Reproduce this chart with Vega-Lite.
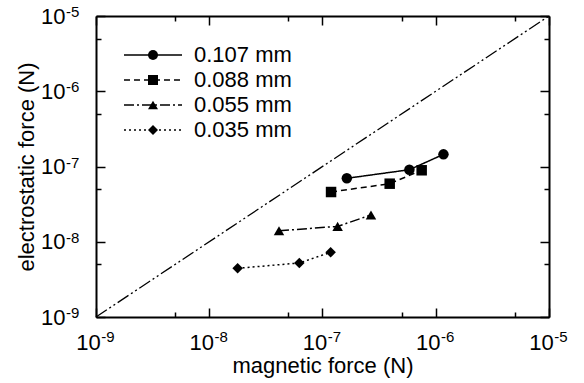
{
  "$schema": "https://vega.github.io/schema/vega-lite/v6.json",
  "width": 453,
  "height": 301,
  "autosize": "none",
  "padding": {"left": 96, "top": 16, "right": 35, "bottom": 66},
  "config": {
    "view": {"stroke": null},
    "font": "Liberation Sans",
    "axis": {"grid": false, "domainColor": "black", "tickColor": "black", "labelColor": "black", "titleColor": "black", "titleFontWeight": "normal", "labelFont": "Liberation Sans", "titleFont": "Liberation Sans", "labelFlush": false, "labelOverlap": false, "labelBound": false},
    "legend": {"labelFont": "Liberation Sans", "labelColor": "black", "labelFontSize": 22, "labelLimit": 300}
  },
  "datasets": {
    "pts": [
      {"series": "0.107 mm", "mag": 1.64e-7, "elec": 6.97e-8},
      {"series": "0.107 mm", "mag": 5.85e-7, "elec": 9.06e-8},
      {"series": "0.107 mm", "mag": 1.17e-6, "elec": 1.45e-7},
      {"series": "0.088 mm", "mag": 1.19e-7, "elec": 4.58e-8},
      {"series": "0.088 mm", "mag": 3.92e-7, "elec": 5.91e-8},
      {"series": "0.088 mm", "mag": 7.51e-7, "elec": 8.91e-8},
      {"series": "0.055 mm", "mag": 4.13e-8, "elec": 1.40e-8},
      {"series": "0.055 mm", "mag": 1.36e-7, "elec": 1.60e-8},
      {"series": "0.055 mm", "mag": 2.68e-7, "elec": 2.27e-8},
      {"series": "0.035 mm", "mag": 1.78e-8, "elec": 4.44e-9},
      {"series": "0.035 mm", "mag": 6.24e-8, "elec": 5.22e-9},
      {"series": "0.035 mm", "mag": 1.18e-7, "elec": 7.24e-9}
    ],
    "diag": [
      {"mag": 1e-9, "elec": 1e-9},
      {"mag": 1e-5, "elec": 1e-5}
    ]
  },
  "layer": [
    {
      "data": {"name": "diag"},
      "mark": {"type": "line", "color": "black", "strokeWidth": 1.3, "strokeDash": [13, 3, 2, 3, 2, 3]},
      "encoding": {
        "x": {
          "field": "mag", "type": "quantitative",
          "scale": {"type": "log", "domain": [1e-9, 1e-5], "nice": false},
          "axis": {
            "orient": "bottom",
            "values": [1e-9, 1e-8, 1e-7, 1e-6, 1e-5],
            "labelExpr": "'10'",
            "tickSize": -9, "tickWidth": 1.5, "domainWidth": 2,
            "labelFontSize": 22, "labelPadding": 24.5, "labelOffset": -8,
            "title": "magnetic force (N)", "titleFontSize": 22, "titleY": 55, "titleBaseline": "alphabetic"
          }
        },
        "y": {
          "field": "elec", "type": "quantitative",
          "scale": {"type": "log", "domain": [1e-9, 1e-5], "nice": false},
          "axis": {
            "orient": "left",
            "values": [1e-9, 1e-8, 1e-7, 1e-6, 1e-5],
            "labelExpr": "'10'",
            "tickSize": -9, "tickWidth": 1.5, "domainWidth": 2,
            "labelFontSize": 22, "labelPadding": 40,
            "title": "electrostatic force (N)", "titleFontSize": 22, "titleX": -63, "titleY": 150.5, "titleAngle": 270, "titleAlign": "center", "titleBaseline": "alphabetic"
          }
        }
      }
    },
    {
      "data": {"name": "pts"},
      "mark": {"type": "line", "color": "black", "strokeWidth": 1.5},
      "encoding": {
        "x": {
          "field": "mag", "type": "quantitative",
          "axis": {
            "orient": "bottom",
            "values": [1e-9, 1e-8, 1e-7, 1e-6, 1e-5],
            "labelExpr": "'' + round(log(datum.value)/LN10)",
            "ticks": false, "domain": false,
            "labelFontSize": 15, "labelPadding": 12.3, "labelOffset": 11.5,
            "title": null
          }
        },
        "y": {
          "field": "elec", "type": "quantitative",
          "axis": {
            "orient": "left",
            "values": [1e-9, 1e-8, 1e-7, 1e-6, 1e-5],
            "labelExpr": "'' + round(log(datum.value)/LN10)",
            "ticks": false, "domain": false,
            "labelFontSize": 15, "labelPadding": 30.5, "labelAlign": "left", "labelOffset": -4.5,
            "title": null
          }
        },
        "strokeDash": {
          "field": "series", "type": "nominal",
          "scale": {"domain": ["0.107 mm", "0.088 mm", "0.055 mm", "0.035 mm"], "range": [[1, 0], [6, 4], [10, 3, 2, 3], [2, 3]]},
          "legend": {"orient": "none", "legendX": 46, "legendY": 28, "title": null, "symbolType": "M-5.8,0H5.8", "symbolSize": 100, "symbolStrokeWidth": 1.5, "symbolStrokeColor": "black", "symbolFillColor": "transparent", "labelFontSize": 22, "labelOffset": 30, "rowPadding": 3, "padding": 0,
            "encode": {"labels": {"update": {"fontSize": {"value": 22}}}}}
        }
      }
    },
    {
      "data": {"name": "pts"},
      "mark": {"type": "point", "filled": true, "size": 110, "color": "black", "opacity": 1},
      "encoding": {
        "x": {
          "field": "mag", "type": "quantitative",
          "axis": {
            "orient": "top",
            "values": [1e-9, 1e-8, 1e-7, 1e-6, 1e-5],
            "labels": false, "tickSize": -9, "tickWidth": 1.5, "domainWidth": 2, "title": null
          }
        },
        "y": {
          "field": "elec", "type": "quantitative",
          "axis": {
            "orient": "right",
            "values": [1e-9, 1e-8, 1e-7, 1e-6, 1e-5],
            "labels": false, "tickSize": -9, "tickWidth": 1.5, "domainWidth": 2, "title": null
          }
        },
        "shape": {
          "field": "series", "type": "nominal", "sort": "descending",
          "scale": {"range": ["circle", "square", "triangle-up", "diamond"]},
          "legend": {"orient": "none", "legendX": 46, "legendY": 28, "title": null, "symbolSize": 100, "symbolFillColor": "black", "symbolStrokeColor": "black", "symbolStrokeWidth": 0, "labelFontSize": 22, "labelOffset": 30, "rowPadding": 3, "padding": 0, "labelOpacity": 0,
            "encode": {"labels": {"update": {"fontSize": {"value": 22}, "opacity": {"value": 0}}}}}
        }
      }
    },
    {
      "data": {"name": "diag"},
      "mark": {"type": "point", "opacity": 0},
      "encoding": {
        "x": {
          "field": "mag", "type": "quantitative",
          "axis": {
            "orient": "bottom",
            "values": [5e-9, 5e-8, 5e-7, 5e-6],
            "labels": false, "domain": false, "tickSize": -5, "tickWidth": 1.5, "title": null
          }
        },
        "y": {
          "field": "elec", "type": "quantitative",
          "axis": {
            "orient": "left",
            "values": [5e-9, 5e-8, 5e-7, 5e-6],
            "labels": false, "domain": false, "tickSize": -5, "tickWidth": 1.5, "title": null
          }
        }
      }
    },
    {
      "data": {"name": "diag"},
      "mark": {"type": "point", "opacity": 0},
      "encoding": {
        "x": {
          "field": "mag", "type": "quantitative",
          "axis": {
            "orient": "top",
            "values": [5e-9, 5e-8, 5e-7, 5e-6],
            "labels": false, "domain": false, "tickSize": -5, "tickWidth": 1.5, "title": null
          }
        },
        "y": {
          "field": "elec", "type": "quantitative",
          "axis": {
            "orient": "right",
            "values": [5e-9, 5e-8, 5e-7, 5e-6],
            "labels": false, "domain": false, "tickSize": -5, "tickWidth": 1.5, "title": null
          }
        }
      }
    }
  ],
  "resolve": {"axis": {"x": "independent", "y": "independent"}}
}
